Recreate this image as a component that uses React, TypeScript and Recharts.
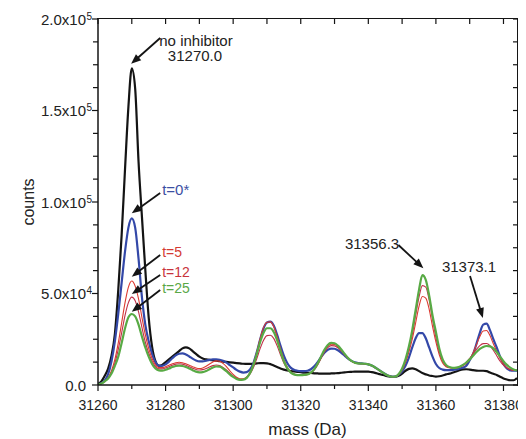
import { LineChart, Line, XAxis, YAxis, ReferenceLine, ReferenceDot } from "recharts"

// deconvoluted mass spectra, counts in thousands, one value per Da from 31260 to 31384
const MASS = Array.from({ length: 125 }, (_, i) => 31260 + i)

const NO_INHIBITOR = [
  0.5, 2, 5, 9, 16, 28, 52, 82, 118, 152,
  173, 162, 122, 92, 63, 37, 21, 13, 10.5, 11,
  12.5, 14, 15.5, 17, 18.5, 20, 20.6, 20, 18.5, 17,
  15.5, 14.5, 14, 13.7, 13.5, 13.3, 13, 12.8, 12.6, 12.4,
  12.2, 12, 11.8, 11.6, 11.5, 11.5, 11.6, 11.8, 12, 12,
  11.8, 11.4, 10.6, 9.8, 9, 8.4, 7.9, 7.6, 7.4, 7.2,
  7, 6.8, 6.7, 6.6, 6.4, 6.3, 6.2, 6.2, 6.2, 6.3,
  6.4, 6.5, 6.7, 6.9, 7.1, 7.2, 7.3, 7.3, 7.3, 7.3,
  7.3, 7, 6.6, 6.1, 5.6, 5.1, 4.7, 4.5, 4.5, 5,
  6.2, 7.8, 8.8, 9.1, 8.6, 7.6, 6.5, 5.8, 5.2, 4.9,
  4.6, 4.8, 5.2, 5.8, 6.2, 6.8, 7.4, 8.1, 8.5, 8.6,
  8.4, 8.1, 7.9, 7.8, 7.8, 7.6, 6.8, 6.1, 5.5, 4.5,
  3.6, 3, 2.6, 2.6, 3.8,
]

const T0 = [
  0.3, 1, 2.5, 6, 13, 24, 39, 56, 73, 86,
  91, 86, 69, 48, 33, 24, 17, 12.5, 10.6, 10.4,
  11.3, 12.8, 14.6, 16.2, 17.1, 17.3, 16.7, 15.6, 14.4, 13.4,
  12.9, 12.9, 13.3, 13.7, 14, 14, 13.8, 13.2, 12.2, 10.9,
  9.6, 8.3, 7.3, 6.8, 7, 8.5, 12, 18, 25, 31,
  34.2, 34.6, 32.5, 27.5, 21.5, 16, 12, 9.5, 8.3, 7.8,
  7.6, 7.6, 7.8, 8.6, 10.2, 12.5, 15.2, 17.6, 19.2, 19.9,
  19.8, 19, 17.6, 16, 14.4, 13.2, 12.4, 12, 11.8, 11.6,
  11.3, 10.6, 9.6, 8.4, 7.2, 6, 5, 4.5, 4.6, 5.6,
  7.5, 10.5, 15, 20.5, 25.5, 28.4, 28.4, 25.5, 20.5, 15.5,
  11.5, 9.3, 8.4, 8.1, 8.1, 8.2, 8.5, 9, 9.5, 10.5,
  13.5, 17, 22.5, 28.5, 33, 33.5, 30, 25, 20.5, 15.5,
  11.5, 9, 8, 7.8, 7.8,
]

const T5 = [
  0.3, 0.8, 2, 4, 7.8, 14, 23, 34, 45, 53.5,
  56.8, 54, 47, 37, 27.5, 20, 14.5, 11, 9.5, 9.5,
  10, 10.8, 11.6, 12.2, 12.4, 12.2, 11.6, 10.8, 10, 9.3,
  9, 9.3, 10.2, 11.5, 12.6, 13.2, 13, 11.8, 10, 7.8,
  5.8, 4.2, 3.4, 3.4, 4.4, 7, 11.5, 18, 25.5, 31.5,
  34.3, 34.5, 32, 26.5, 20, 14, 9.8, 7.2, 6, 5.5,
  5.4, 5.5, 5.8, 6.7, 8.5, 11.4, 15, 18.6, 21.2, 22.3,
  22.1, 20.9, 19, 16.8, 14.7, 13.1, 12.2, 11.8, 11.7, 11.6,
  11.3, 10.6, 9.6, 8.4, 7.1, 5.9, 5, 4.5, 4.6, 5.7,
  8.2, 12.2, 18, 25, 34, 43, 48.4, 47.5, 41.5, 32,
  23.5, 16.5, 12, 10, 9.4, 9.2, 9.3, 9.8, 10.5, 11.8,
  14, 17.5, 22, 26.5, 29.5, 29.8, 27, 22.5, 18.5, 14.5,
  11.5, 9.5, 8.5, 8, 8,
]

const T12 = [
  0.3, 0.8, 2, 3.8, 7, 12, 19.5, 28.5, 38, 45,
  48, 46, 40, 31.5, 23.5, 17.5, 13, 10, 8.8, 8.8,
  9.3, 10, 10.8, 11.4, 11.6, 11.4, 10.8, 10, 9.2, 8.5,
  8.2, 8.4, 9, 9.9, 10.6, 10.9, 10.6, 9.6, 8.2, 6.6,
  5, 3.8, 3, 3, 3.8, 6, 9.5, 14.5, 20, 24.5,
  27, 27.2, 25.5, 21.5, 16.5, 12, 8.8, 6.8, 5.8, 5.4,
  5.3, 5.4, 5.8, 6.6, 8.3, 11, 14.5, 18, 20.5, 21.5,
  21.4, 20.3, 18.5, 16.4, 14.5, 13, 12.1, 11.7, 11.6, 11.5,
  11.2, 10.5, 9.5, 8.3, 7, 5.9, 5, 4.5, 4.6, 5.8,
  8.5, 13, 19.5, 27.5, 38, 48, 54.3, 53.5, 46.5, 36,
  26, 18, 13, 10.5, 9.6, 9.3, 9.5, 10, 11, 12.5,
  14.5, 17, 19.5, 21.5, 22.6, 22.7, 21.5, 19, 16, 13,
  10.8, 9.3, 8.5, 8, 8,
]

const T25 = [
  0.3, 0.8, 2, 3.6, 6.3, 10.5, 15.5, 23, 31, 37,
  38.8, 37.5, 33, 26.5, 20.5, 15.5, 11.5, 9, 8, 7.9,
  8.3, 9, 9.8, 10.4, 10.6, 10.4, 9.8, 9, 8.1, 7.3,
  6.9, 7, 7.6, 8.6, 9.6, 10.1, 10, 9, 7.5, 5.8,
  4.4, 3.3, 2.8, 2.9, 3.9, 6.5, 11, 17, 23.5, 28.5,
  31, 31, 29, 24.5, 18.5, 13, 9.2, 6.9, 5.8, 5.4,
  5.4, 5.5, 5.8, 6.8, 8.7, 11.8, 15.5, 19.2, 21.9, 23,
  22.8, 21.5, 19.4, 17, 14.8, 13.2, 12.2, 11.8, 11.7, 11.6,
  11.3, 10.6, 9.6, 8.4, 7.1, 5.9, 5, 4.5, 4.6, 6,
  9, 14, 21, 30, 41, 52, 60, 57.5, 49, 38,
  29, 20, 14, 11, 9.8, 9.4, 9.5, 10, 11, 12.3,
  14, 16, 18, 19.7, 20.8, 21.3, 21.1, 20, 18, 15.5,
  13, 11, 9.5, 8.5, 8,
]

const X_DOMAIN = [31260, 31384]
const Y_DOMAIN = [0, 200000]
const X_TICKS = [31260, 31270, 31280, 31290, 31300, 31310, 31320, 31330, 31340, 31350, 31360, 31370, 31380]
const Y_TICKS = [0, 12500, 25000, 37500, 50000, 62500, 75000, 87500, 100000, 112500, 125000, 137500, 150000, 162500, 175000, 187500, 200000]

const SERIES = [
  { key: "none", color: "#141414", width: 2.2, values: NO_INHIBITOR },
  { key: "t0", color: "#3348a8", width: 2.2, values: T0 },
  { key: "t5", color: "#dc3a30", width: 1.1, values: T5 },
  { key: "t12", color: "#c03048", width: 1.1, values: T12 },
  { key: "t25", color: "#58aa45", width: 2.2, values: T25 },
]

// annotation anchors in data space (mass, counts)
const LABELS = [
  { text: "no inhibitor", m: 31289, c: 185500, anchor: "middle", color: "#222", size: 15 },
  { text: "31270.0", m: 31288.7, c: 177000, anchor: "middle", color: "#222", size: 15 },
  { text: "t=0*", m: 31279, c: 103600, anchor: "start", color: "#3b4fa3", size: 15 },
  { text: "t=5", m: 31279, c: 70000, anchor: "start", color: "#d43a32", size: 14 },
  { text: "t=12", m: 31279, c: 59000, anchor: "start", color: "#c8343c", size: 14 },
  { text: "t=25", m: 31279, c: 50300, anchor: "start", color: "#5aa846", size: 14 },
  { text: "31356.3", m: 31341.1, c: 74300, anchor: "middle", color: "#222", size: 15 },
  { text: "31373.1", m: 31369.8, c: 61700, anchor: "middle", color: "#222", size: 15 },
]

const ARROWS = [
  { from: [31278.4, 189600], to: [31269.8, 175500] },
  { from: [31278.4, 104900], to: [31270, 93800] },
  { from: [31278.4, 71000], to: [31270, 59200] },
  { from: [31278.4, 60100], to: [31270, 49700] },
  { from: [31278.4, 51900], to: [31270, 40000] },
  { from: [31348.9, 76500], to: [31356.3, 63800] },
  { from: [31370.1, 59600], to: [31373.9, 36600] },
]

const data = MASS.map((m, i) => {
  const row: Record<string, number> = { mass: m }
  SERIES.forEach(s => { row[s.key] = s.values[i] * 1000 })
  return row
})

const FONT = "'Liberation Sans', Arial, Helvetica, sans-serif"
const INK = "#141414"

const CHART_W = 518
const CHART_H = 431
const MARGIN = { top: 11, right: 9, left: 0, bottom: 0 }
const Y_AXIS_W = 90
const X_AXIS_H = 54
const PLOT_W = CHART_W - MARGIN.left - MARGIN.right - Y_AXIS_W
const PLOT_H = CHART_H - MARGIN.top - MARGIN.bottom - X_AXIS_H

// bottom ticks also mirror a short inward tick onto the top frame
function BottomTick({ x, y, payload }: any) {
  const major = payload.value % 20 === 0
  const top = y - PLOT_H
  return (
    <g>
      <line x1={x} x2={x} y1={y} y2={y + (major ? 6 : 4)} stroke={INK} strokeWidth={1.2} />
      <line x1={x} x2={x} y1={top} y2={top + 5} stroke={INK} strokeWidth={1.2} />
      {major && (
        <text x={x} y={y + 25} textAnchor="middle" fontSize={14} fontFamily={FONT} fill="#222">
          {payload.value}
        </text>
      )}
    </g>
  )
}

// left ticks mirror a short inward tick onto the right frame
function LeftTick({ x, y, payload }: any) {
  const v = payload.value
  const major = v % 50000 === 0
  const right = x + PLOT_W
  let main = ""
  let sup = ""
  if (major) {
    if (v === 0) main = "0.0"
    else {
      const exp = Math.floor(Math.log10(v))
      main = (v / Math.pow(10, exp)).toFixed(1) + "x10"
      sup = String(exp)
    }
  }
  return (
    <g>
      <line x1={x - (major ? 6 : 5)} x2={x} y1={y} y2={y} stroke={INK} strokeWidth={1.2} />
      <line x1={right - 4} x2={right} y1={y} y2={y} stroke={INK} strokeWidth={1.2} />
      {major && (
        <text x={x - 12} y={y + 5.5} textAnchor="end" fontSize={15} fontFamily={FONT} fill="#222">
          {main}
        </text>
      )}
      {sup && (
        <text x={x - 11.5} y={y + 0.5} fontSize={10} fontFamily={FONT} fill="#222">
          {sup}
        </text>
      )}
    </g>
  )
}

function Arrow(props: any) {
  const { x1, y1, x2, y2 } = props
  const dx = x2 - x1
  const dy = y2 - y1
  const len = Math.hypot(dx, dy) || 1
  const ux = dx / len
  const uy = dy / len
  const hl = 10
  const hw = 4
  const bx = x2 - ux * hl
  const by = y2 - uy * hl
  return (
    <g>
      <line x1={x1} y1={y1} x2={bx + ux * 2} y2={by + uy * 2} stroke={INK} strokeWidth={1.8} />
      <polygon
        points={`${x2},${y2} ${bx - uy * hw},${by + ux * hw} ${bx + uy * hw},${by - ux * hw}`}
        fill={INK}
      />
    </g>
  )
}

export default function App() {
  const plotLeft = MARGIN.left + Y_AXIS_W
  return (
    <div style={{ position: "relative", width: CHART_W, height: CHART_H, background: "#fff", fontFamily: FONT }}>
      <style>{"html, body { overflow: hidden; } svg { overflow: visible; }"}</style>
      <LineChart width={CHART_W} height={CHART_H} data={data} margin={MARGIN}>
        <XAxis
          dataKey="mass"
          type="number"
          domain={X_DOMAIN}
          allowDataOverflow
          ticks={X_TICKS}
          interval={0}
          height={X_AXIS_H}
          tickSize={0}
          tickMargin={0}
          tickLine={false}
          tick={<BottomTick />}
          axisLine={{ stroke: INK, strokeWidth: 1.5 }}
          label={{ value: "mass (Da)", position: "insideBottom", offset: 4, fontSize: 17, fill: "#222", fontFamily: FONT }}
        />
        <YAxis
          type="number"
          domain={Y_DOMAIN}
          allowDataOverflow
          ticks={Y_TICKS}
          interval={0}
          width={Y_AXIS_W}
          tickSize={0}
          tickMargin={0}
          tickLine={false}
          tick={<LeftTick />}
          axisLine={{ stroke: INK, strokeWidth: 1.5 }}
          label={{ value: "counts", angle: -90, position: "insideLeft", offset: 20, fontSize: 16, fill: "#222", fontFamily: FONT, style: { textAnchor: "middle" } }}
        />
        {SERIES.map(s => (
          <Line
            key={s.key}
            type="monotone"
            dataKey={s.key}
            stroke={s.color}
            strokeWidth={s.width}
            dot={false}
            activeDot={false}
            isAnimationActive={false}
          />
        ))}
        {ARROWS.map((a, i) => (
          <ReferenceLine
            key={"arrow" + i}
            segment={[{ x: a.from[0], y: a.from[1] }, { x: a.to[0], y: a.to[1] }]}
            shape={Arrow}
          />
        ))}
        {LABELS.map(l => (
          <ReferenceDot
            key={l.text}
            x={l.m}
            y={l.c}
            r={0}
            shape={(p: any) => (
              <text x={p.cx} y={p.cy} textAnchor={l.anchor as any} fontSize={l.size} fontFamily={FONT} fill={l.color}>
                {l.text}
              </text>
            )}
          />
        ))}
      </LineChart>
      {/* top and right frame of the plot box */}
      <div
        style={{
          position: "absolute",
          left: plotLeft - 0.75,
          top: MARGIN.top - 0.75,
          width: PLOT_W + 1.5,
          height: PLOT_H + 1.5,
          boxSizing: "border-box",
          borderTop: `1.5px solid ${INK}`,
          borderRight: `1.5px solid ${INK}`,
          pointerEvents: "none",
        }}
      />
    </div>
  )
}
